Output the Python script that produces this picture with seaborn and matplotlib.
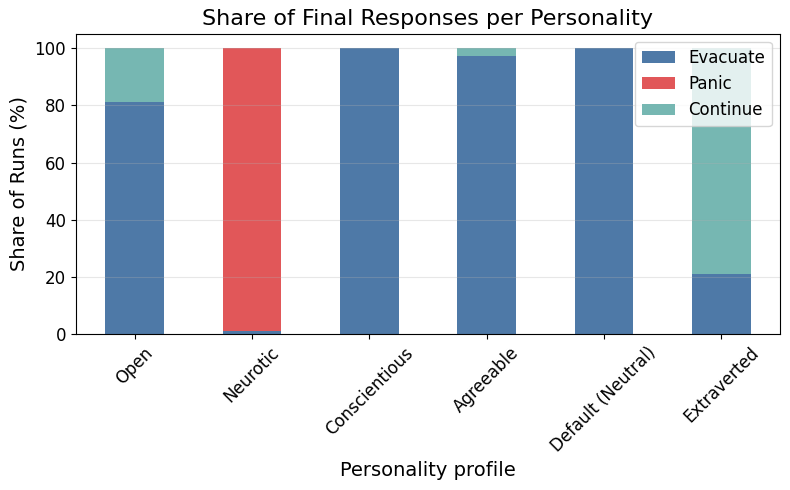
import numpy as np
import matplotlib
matplotlib.use('Agg')
import matplotlib.pyplot as plt
import seaborn as sns

personalities = ['Open', 'Neurotic', 'Conscientious', 'Agreeable', 'Default (Neutral)', 'Extraverted']
evacuate = [81, 1, 100, 97.3, 100, 21]
panic = [0, 99, 0, 0, 0, 0]
cont = [19, 0, 0, 2.7, 0, 79]

colors = {'Evacuate': '#4e79a7', 'Panic': '#e15759', 'Continue': '#76b7b2'}

plt.rcParams['font.family'] = ['DejaVu Sans']

fig, ax = plt.subplots(figsize=(7.9, 4.9), dpi=100)

bottom = np.zeros(len(personalities))
for name, vals in [('Evacuate', evacuate), ('Panic', panic), ('Continue', cont)]:
    sns.barplot(x=personalities, y=vals, bottom=bottom, color=colors[name],
                saturation=1, width=0.5, linewidth=0,
                label=name, ax=ax, zorder=1)
    bottom += np.array(vals)

ax.set_ylim(0, 105)
ax.set_xlim(-0.5, len(personalities) - 0.5)
# grid drawn over the bars, faint
ax.set_axisbelow('line')
ax.yaxis.grid(True, color='#b0b0b0', alpha=0.3, linewidth=0.8)
ax.set_title('Share of Final Responses per Personality', fontsize=16)
ax.set_xlabel('Personality profile', fontsize=14)
ax.set_ylabel('Share of Runs (%)', fontsize=14)
ax.tick_params(axis='both', labelsize=12)
plt.setp(ax.get_xticklabels(), rotation=45)
ax.legend(loc='upper right', fontsize=12)

fig.subplots_adjust(left=0.096, right=0.9875, top=0.931, bottom=0.318)
plt.savefig('out.png', dpi=100)
